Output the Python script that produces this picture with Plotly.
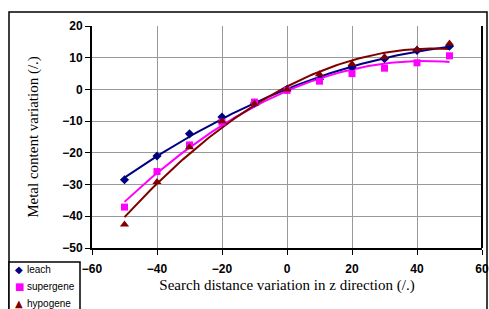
import numpy as np
import plotly.graph_objects as go

x_vals = [-50, -40, -30, -20, -10, 0, 10, 20, 30, 40, 50]
leach = [-28.5, -21.0, -14.0, -8.7, -4.3, 0.0, 3.2, 7.0, 9.7, 12.3, 13.6]
supergene = [-37.1, -25.9, -17.5, -10.3, -4.0, -0.3, 2.6, 5.0, 6.7, 8.4, 10.6]
hypogene = [-42.6, -29.2, -18.2, -10.0, -4.5, 0.0, 4.8, 8.0, 10.2, 12.6, 14.5]

series = [
    ("leach", leach, "#000080", "diamond", 7, "◆"),
    ("supergene", supergene, "#FF00FF", "square", 7, "■"),
    ("hypogene", hypogene, "#800000", "triangle-up", 8, "▲"),
]

# pixel geometry of the plot area
L, R, T, B = 92, 482, 26, 248
def px(x): return (x - L) / (R - L)
def py(y): return (B - y) / (B - T)

fig = go.Figure()
xfit = np.linspace(-50, 50, 101)
for name, ys, color, sym, size, glyph in series:
    coef = np.polyfit(x_vals, ys, 2)
    fig.add_trace(go.Scatter(x=xfit, y=np.polyval(coef, xfit), mode="lines",
                             line=dict(color=color, width=2), showlegend=False,
                             hoverinfo="skip"))
for name, ys, color, sym, size, glyph in series:
    fig.add_trace(go.Scatter(x=x_vals, y=ys, mode="markers", name=name, showlegend=False,
                             marker=dict(symbol=sym, color=color, size=size)))

fig.update_layout(
    width=489, height=309,
    margin=dict(l=L, r=489 - R, t=T, b=309 - B, autoexpand=False),
    paper_bgcolor="white", plot_bgcolor="white",
    showlegend=False,
    font=dict(family="Liberation Sans", color="black"),
)
fig.update_xaxes(range=[-60, 60], dtick=20, tick0=-60, showgrid=True, gridcolor="#999999",
                 gridwidth=1, zeroline=False, showline=True, linecolor="black", linewidth=2,
                 ticks="outside", ticklen=5, tickcolor="black", automargin=False,
                 ticklabelstandoff=4,
                 tickfont=dict(family="Liberation Sans", size=12, weight="bold"),
                 title=dict(text="Search distance variation in z direction (/.)",
                            font=dict(family="Liberation Serif", size=15), standoff=4))
fig.update_yaxes(range=[-50, 20], dtick=10, showgrid=True, gridcolor="#999999",
                 gridwidth=1, zeroline=False, showline=True, linecolor="black", linewidth=2,
                 ticks="outside", ticklen=5, tickcolor="black", automargin=False,
                 tickfont=dict(family="Liberation Sans", size=12, weight="bold"),
                 title=dict(text="Metal content variation (/.)",
                            font=dict(family="Liberation Serif", size=15), standoff=20))
# right border of plot area
fig.add_shape(type="line", xref="paper", yref="paper", x0=1, x1=1, y0=0, y1=1,
              line=dict(color="black", width=2))
# outer chart border
fig.add_shape(type="rect", xref="paper", yref="paper",
              x0=px(9), x1=px(487), y0=py(320), y1=py(12),
              line=dict(color="black", width=1.5), fillcolor="rgba(0,0,0,0)", layer="below")
# legend box
fig.add_shape(type="rect", xref="paper", yref="paper",
              x0=px(9), x1=px(80), y0=py(320), y1=py(262),
              line=dict(color="black", width=1.5), fillcolor="white", layer="above")
for i, (name, ys, color, sym, size, glyph) in enumerate(series):
    yy = 269 + 17 * i
    fig.add_annotation(xref="paper", yref="paper", x=px(19), y=py(yy), text=glyph,
                       showarrow=False, xanchor="center", yanchor="middle",
                       font=dict(family="DejaVu Sans", size=10, color=color))
    fig.add_annotation(xref="paper", yref="paper", x=px(25), y=py(yy), text=name,
                       showarrow=False, xanchor="left", yanchor="middle",
                       font=dict(family="Liberation Sans", size=10, color="black"))

fig.write_html("out.html", post_script="document.body.style.margin='0';",
               config={"displayModeBar": False})
